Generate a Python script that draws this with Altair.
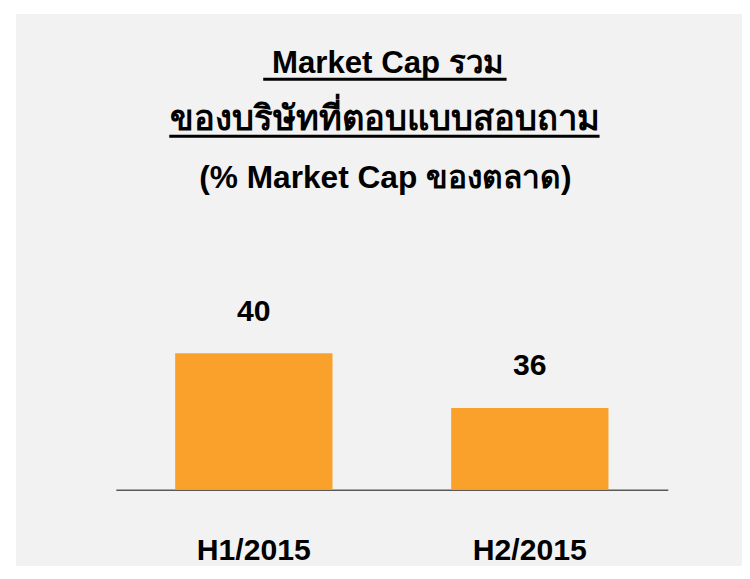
import altair as alt
import pandas as pd

# ---- data ----
categories = ["H1/2015", "H2/2015"]
values = [40, 36]
axis_min = 30
title_lines = ["Market Cap รวม", "ของบริษัทที่ตอบแบบสอบถาม", "(% Market Cap ของตลาด)"]

df = pd.DataFrame({"period": categories, "value": values})

FONT = "Liberation Sans"
W, H = 734, 558
BASE_Y = 481
BAR_COLOR = "#F9A12B"

x_enc = alt.X(
    "period:N",
    sort=categories,
    scale=alt.Scale(range=[101, 659], paddingInner=0.43, paddingOuter=0.215),
    axis=alt.Axis(
        title=None, orient="bottom", offset=BASE_Y - H,
        domainColor="#595959", domainWidth=1.5,
        ticks=False, tickSize=0, grid=False,
        labelPadding=70, labelBaseline="alphabetic", labelAngle=0,
        labelFont=FONT, labelFontSize=30.5, labelFontWeight="bold", labelColor="#000000",
    ),
)
y_enc = alt.Y(
    "value:Q",
    scale=alt.Scale(domain=[axis_min, 40], range=[BASE_Y, 343], zero=False, nice=False),
    axis=None,
)

base = alt.Chart(df)
bars = base.mark_bar(color=BAR_COLOR).encode(x=x_enc, y=y_enc, y2=alt.datum(axis_min))
value_labels = base.mark_text(
    font=FONT, fontSize=30.5, fontWeight="bold", baseline="alphabetic", dy=-33, color="#000000"
).encode(x=x_enc, y=y_enc, text="value:Q")


def title_line(text, xv, yv, size):
    return alt.Chart(pd.DataFrame({"t": [text]})).mark_text(
        font=FONT, fontSize=size, fontWeight="bold", baseline="alphabetic",
        align="center", color="#000000",
    ).encode(x=alt.value(xv), y=alt.value(yv), text="t:N")


def underline(x1, x2, yv):
    return alt.Chart(pd.DataFrame({"u": [0]})).mark_rule(color="#000000", strokeWidth=3).encode(
        x=alt.value(x1), x2=alt.value(x2), y=alt.value(yv)
    )


t1 = title_line(title_lines[0], 376, 60, 31.5)
t2 = title_line(title_lines[1], 373.5, 117, 35)
t3 = title_line(title_lines[2], 373.5, 176, 32)
u1 = underline(250, 496, 66)
u2 = underline(155, 590, 123.5)

chart = alt.layer(bars, value_labels, t1, t2, t3, u1, u2).properties(
    width=W, height=H,
    autosize=alt.AutoSizeParams(type="none"),
    padding={"left": 8, "top": 3, "right": 0, "bottom": 0},
    background="#FFFFFF",
).configure_view(fill="#F2F2F2", strokeWidth=0)

chart.save("out.html", embed_options={"renderer": "svg", "actions": False})
